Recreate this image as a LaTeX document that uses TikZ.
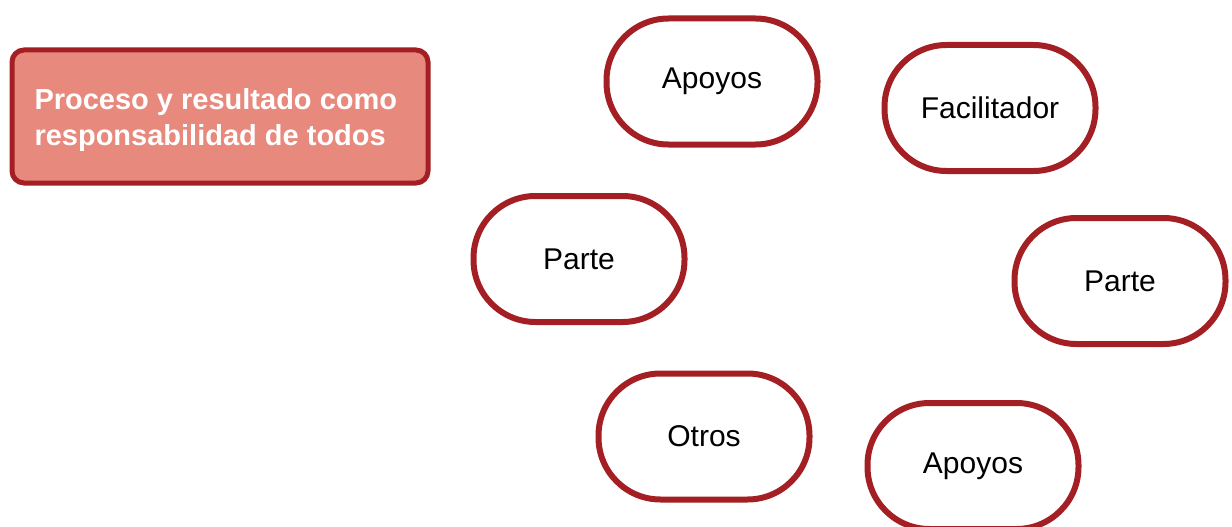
\documentclass[tikz,border=0pt]{standalone}
\usepackage{fontspec}
\setmainfont{Liberation Sans}
\definecolor{edge}{HTML}{A31F24}
\definecolor{boxfill}{HTML}{E8897D}
\begin{document}
\begin{tikzpicture}[x=1pt,y=-1pt,
  pill/.style={draw=edge,line width=6pt,fill=white,rounded corners=62pt,
    minimum width=211pt,minimum height=126pt,inner sep=0pt,
    font=\fontsize{30}{36}\selectfont,text=black},
  titlebox/.style={draw=edge,line width=5pt,fill=boxfill,rounded corners=12pt,
    minimum width=416pt,minimum height=133pt,inner sep=0pt},
  titletext/.style={anchor=west,align=left,font=\bfseries\fontsize{29}{36}\selectfont,text=white}]
\useasboundingbox (0,0) rectangle (1232,527);
\node[titlebox] (t) at (220,116.5) {};
\node[titletext] (tt) at (31,120) {Proceso y resultado como\\responsabilidad de todos};
\node[pill] (a1) at (712,81.5) {Apoyos};
\node[pill] (f) at (990,108) {Facilitador};
\node[pill] (p1) at (579,259) {Parte};
\node[pill] (p2) at (1120,281) {Parte};
\node[pill] (o) at (704,436.5) {Otros};
\node[pill] (a2) at (973,466) {Apoyos};
\end{tikzpicture}
\end{document}
